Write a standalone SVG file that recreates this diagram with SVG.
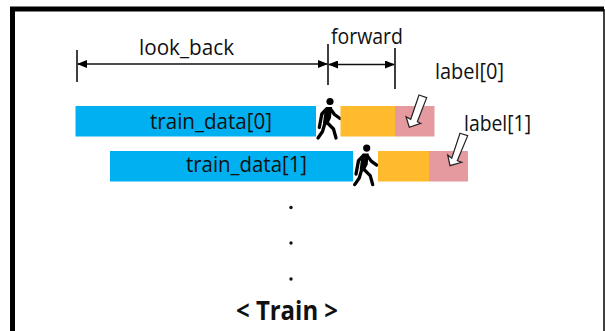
<svg xmlns="http://www.w3.org/2000/svg" width="605" height="331" viewBox="0 0 605 331">
<style>
text{font-family:"Open Sans","Noto Sans",sans-serif;font-size:22px;fill:#111}
.blue{fill:#00b0f0}.orange{fill:#ffba2e}.pink{fill:#e49a9f}
.tick{stroke:#111;stroke-width:1.600;fill:none}
.dim{stroke:#111;stroke-width:1.400;fill:none;marker-start:url(#a);marker-end:url(#a)}
.hollow{fill:#fff;stroke:#222;stroke-width:1.200}
.limb{stroke:#000;stroke-width:3.300;fill:none;stroke-linecap:round;stroke-linejoin:round}
</style>
<defs>
<marker id="a" markerWidth="10" markerHeight="8" refX="9" refY="4" orient="auto-start-reverse" markerUnits="userSpaceOnUse"><path d="M0 0L10 4L0 8Z" fill="#000"/></marker>
<g id="walker"><circle cx="330" cy="101.500" r="3.600" fill="#000"/>
<polygon points="326,107 332,107 331,118 327.500,125 323,123 324,115" fill="#000"/>
<path class="limb" d="M325 123L322.500 131.500L318 138M326.500 122L333.500 129L336 138M326.500 109L321.800 114L319.300 127.500M330.500 109L334.500 114.500L340 118.500"/></g>
</defs>
<rect width="605" height="331" fill="#fff"/>
<path d="M12.500 331V9H604" fill="none" stroke="#000" stroke-width="5"/>
<path d="M604 9V331" fill="none" stroke="#000" stroke-width="1.500"/>
<g id="connectors">
<path class="tick" d="M77 50V82M328 44V85M395 48V89"/>
<path class="dim" d="M78 64H327"/>
<path class="dim" d="M329 64.500H394"/>
</g>
<g id="look_back"><text x="139" y="55" textLength="95" lengthAdjust="spacingAndGlyphs">look_back</text></g>
<g id="forward"><text x="331" y="44" textLength="72" lengthAdjust="spacingAndGlyphs">forward</text></g>
<g id="train0"><rect class="blue" x="75.500" y="106" width="240.500" height="30.500"/><text x="150" y="129" textLength="122" lengthAdjust="spacingAndGlyphs">train_data[0]</text></g>
<g id="walker0"><use href="#walker"/></g>
<g id="forward0"><rect class="orange" x="340.500" y="106" width="54.500" height="30.500"/></g>
<g id="label0"><rect class="pink" x="395" y="106" width="39.500" height="30.500"/>
<polygon class="hollow" points="419,95 426.700,97.700 417.300,121.700 420.700,123.300 409.300,127.300 406,116.700 410.700,119.300"/>
<text x="435" y="79" textLength="69" lengthAdjust="spacingAndGlyphs">label[0]</text></g>
<g id="train1"><rect class="blue" x="110" y="151" width="243" height="30.500"/><text x="186" y="172" textLength="121" lengthAdjust="spacingAndGlyphs">train_data[1]</text></g>
<g id="walker1"><use href="#walker" x="36.700" y="46.600"/></g>
<g id="forward1"><rect class="orange" x="378" y="151" width="51" height="30.500"/></g>
<g id="label1"><rect class="pink" x="429" y="151" width="39" height="30.500"/>
<polygon class="hollow" points="460,133.300 467.700,135.700 457.300,160.700 461.700,162.300 450,165.700 447.700,155 451.700,158.300"/>
<text x="464" y="131" textLength="67" lengthAdjust="spacingAndGlyphs">label[1]</text></g>
<g id="dots"><circle cx="291" cy="207.500" r="1.700" fill="#111"/><circle cx="291" cy="243" r="1.700" fill="#111"/><circle cx="291" cy="279" r="1.700" fill="#111"/></g>
<g id="title"><text x="236" y="320" textLength="102" lengthAdjust="spacingAndGlyphs" style="font-size:27px;font-weight:700">&lt; Train &gt;</text></g>
</svg>
